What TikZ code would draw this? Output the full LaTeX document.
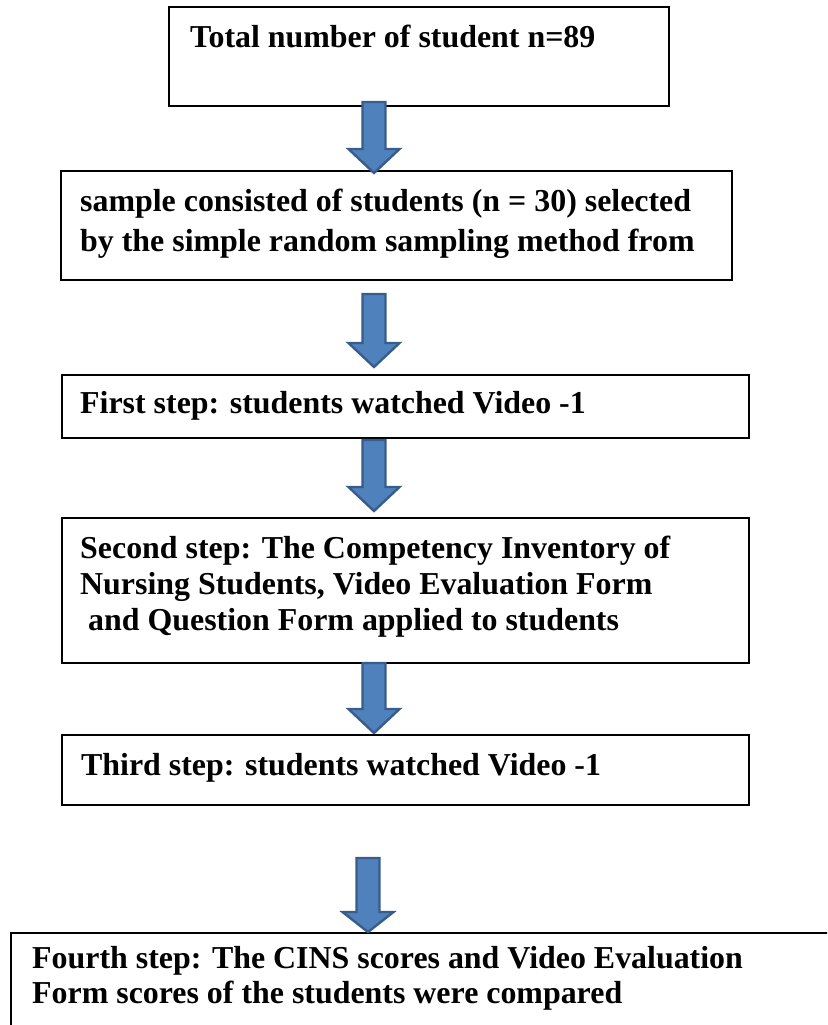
\documentclass[tikz,border=0pt]{standalone}
\usepackage{fontspec}
\setmainfont{Liberation Serif}
\definecolor{arrfill}{HTML}{4F81BD}
\definecolor{arrline}{HTML}{385D8A}
\tikzset{
  box/.style={draw=black, line width=1.7pt, fill=white},
  txt/.style={anchor=base west, inner sep=0pt, font=\fontsize{31.9}{41}\selectfont\bfseries},
  barrow/.style={fill=arrfill, draw=arrline, line width=2.4pt, line join=miter}
}
\newcommand{\blockarr}[4]{%
  \draw[barrow] (#1-11.5,#2) -- (#1+11.5,#2) -- (#1+11.5,#3) -- (#1+25.5,#3) -- (#1,#4) -- (#1-25.5,#3) -- (#1-11.5,#3) -- cycle;}
\begin{document}
\begin{tikzpicture}[x=1pt, y=-1pt]
\useasboundingbox (0,0) rectangle (827,1025);
\clip (0,0) rectangle (827,1025);
% boxes
\path[box] (169,7) rectangle (669,106) node[pos=0.5, inner sep=0] (b1) {};
\path[box] (61,171) rectangle (732,280) node[pos=0.5, inner sep=0] (b2) {};
\path[box] (62,375) rectangle (749,438) node[pos=0.5, inner sep=0] (b3) {};
\path[box] (62,518) rectangle (749,663) node[pos=0.5, inner sep=0] (b4) {};
\path[box] (62,735) rectangle (749,805) node[pos=0.5, inner sep=0] (b5) {};
\path[box] (11,933) rectangle (860,1060) node[pos=0.5, inner sep=0] (b6) {};
% arrows
\blockarr{374}{102}{149}{173}
\blockarr{374}{294}{343}{367}
\blockarr{374}{440}{487}{511}
\blockarr{374}{663}{709}{733}
\blockarr{368}{858}{912}{932}
% texts
\node[txt] (t1) at (190,48) {Total number of student n=89};
\node[txt] (t2a) at (80,211) {sample consisted of students (n = 30) selected};
\node[txt] (t2b) at (80,251) {by the simple random sampling method from};
\node[txt] (t3) at (80,413) {First step: students watched Video -1};
\node[txt] (t4a) at (80,558) {Second step: The Competency Inventory of};
\node[txt] (t4b) at (80,594) {Nursing Students, Video Evaluation Form};
\node[txt] (t4c) at (80,630) {\ and Question Form applied to students};
\node[txt] (t5) at (81,775) {Third step: students watched Video -1};
\node[txt] (t6a) at (32,968) {Fourth step: The CINS scores and Video Evaluation};
\node[txt] (t6b) at (32,1003) {Form scores of the students were compared};
\end{tikzpicture}
\end{document}
